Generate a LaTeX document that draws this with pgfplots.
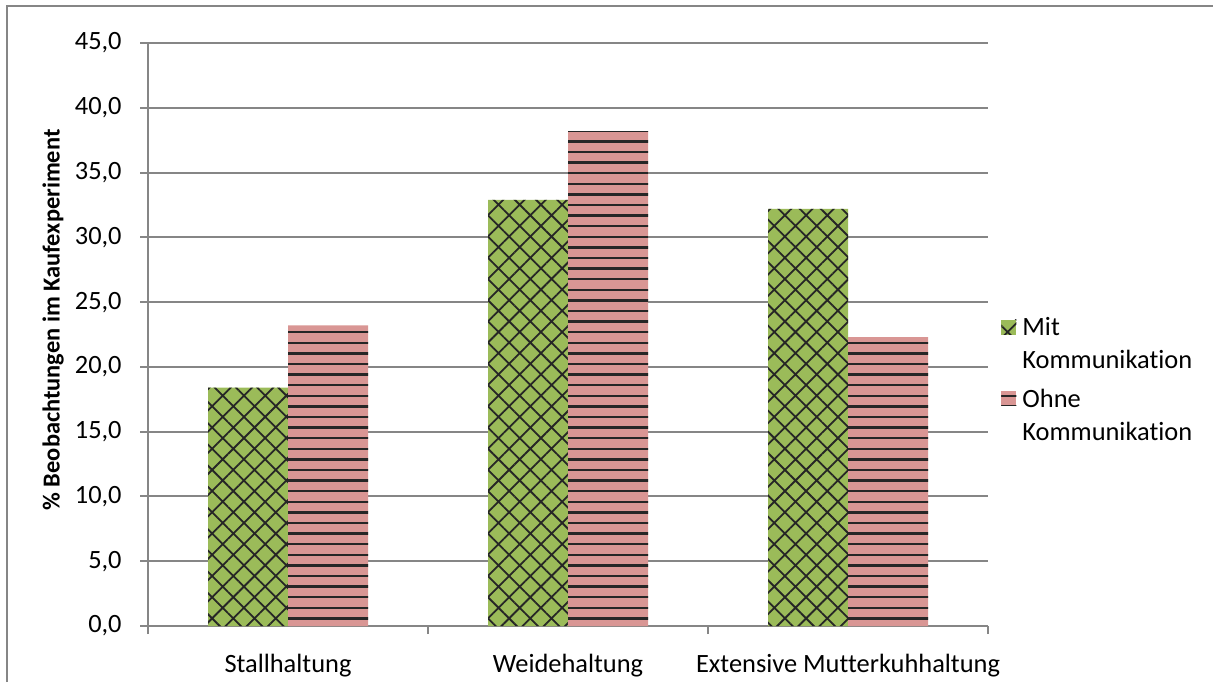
\documentclass[border=0pt]{standalone}
\usepackage{fontspec}
\setmainfont{Carlito}[Ligatures=NoCommon]
\usepackage{pgfplots}
\pgfplotsset{compat=1.18}
\usetikzlibrary{patterns.meta}
\definecolor{barGreen}{RGB}{155,187,89}
\definecolor{barRose}{RGB}{217,150,148}
\definecolor{lineGray}{RGB}{134,134,134}
% horizontal stripes; the cell is wider than its step so the tiles overlap without seams
\pgfdeclarepatternformonly{hstripes}{\pgfqpoint{-1pt}{-1pt}}{\pgfqpoint{21pt}{6.3pt}}{\pgfqpoint{20pt}{5.3pt}}{%
  \pgfsetlinewidth{1.2pt}%
  \pgfpathmoveto{\pgfqpoint{-1pt}{0pt}}%
  \pgfpathlineto{\pgfqpoint{21pt}{0pt}}%
  \pgfusepath{stroke}}
\begin{document}
\fontsize{13.2pt}{16.5pt}\selectfont
\begin{tikzpicture}
\path[use as bounding box] (0,0) rectangle (606.5pt,341pt);
% chart frame
\draw[lineGray, line width=1pt] (3.5pt,0) -- (3.5pt,338pt) -- (606.5pt,338pt);
\begin{axis}[
  at={(74pt,28pt)}, anchor=south west,
  scale only axis, width=420pt, height=291.5pt,
  xmin=-0.5, xmax=2.5, ymin=0, ymax=45,
  ybar=0pt, bar width=40pt,
  every axis plot post/.append style={
    legend image code/.code={\path[##1] (0pt,5.25pt) rectangle (7.5pt,12.75pt);}},
  axis x line*=bottom, axis y line*=left,
  axis line style={-, draw=lineGray, line width=1pt},
  xtick={0,1,2},
  xticklabels={Stallhaltung,Weidehaltung,Extensive Mutterkuhhaltung},
  major x tick style={draw=none},
  minor xtick={-0.5,0.5,1.5,2.5},
  ytick={0,5,...,45},
  tick align=outside, major tick length=4pt, minor tick length=4pt,
  tick style={lineGray, line width=1pt},
  ymajorgrids, major grid style={lineGray, line width=1pt},
  xticklabel style={anchor=base, yshift=-19pt, inner sep=0pt},
  yticklabel style={anchor=east, inner sep=0pt, xshift=-9pt,
    /pgf/number format/.cd, fixed, fixed zerofill, precision=1, use comma,
    assume math mode=true},
  ylabel={\textbf{\% Beobachtungen im Kaufexperiment}},
  ylabel style={at={(axis description cs:-0.113,0.525)}, anchor=center,
    font=\fontsize{12.2pt}{14pt}\selectfont},
  legend style={at={(axis description cs:1,0.545)}, anchor=north west,
    xshift=6.5pt, yshift=-2.5pt, draw=none, fill=none, inner sep=0pt,
    cells={align=left}, column sep=1pt, row sep=4pt,
    font=\fontsize{13.2pt}{16.5pt}\selectfont},
  legend cell align=left,
]
\addplot[fill=barGreen, draw=none,
  postaction={pattern color=black!85, pattern={Hatch[angle=45, distance=7.5pt, line width=0.9pt]}}]
  coordinates {(0,18.4) (1,32.9) (2,32.2)};
\addplot[fill=barRose, draw=none,
  postaction={pattern color=black!85, pattern=hstripes}]
  coordinates {(0,23.2) (1,38.2) (2,22.3)};
\legend{Mit\\Kommunikation, Ohne\\Kommunikation}
\end{axis}
\end{tikzpicture}
\end{document}
